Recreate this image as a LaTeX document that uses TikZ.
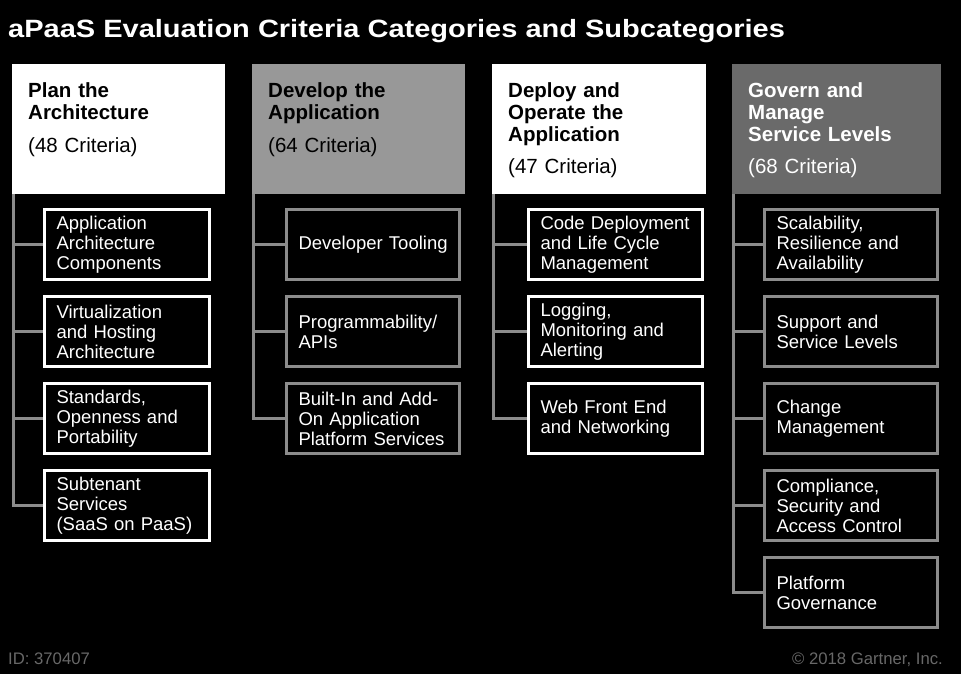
\documentclass[tikz,border=0pt]{standalone}
\usepackage{fontspec}
\setmainfont{Liberation Sans}
\usepackage{tikz}
\usetikzlibrary{positioning}

\definecolor{hdrlight}{HTML}{989898}
\definecolor{hdrdark}{HTML}{6A6A6A}
\definecolor{linegray}{HTML}{8C8C8C}
\definecolor{footgray}{HTML}{686868}

\begin{document}
\begin{tikzpicture}[
  x=1pt, y=-1pt,
  hdr/.style={anchor=north west,inner sep=0pt,minimum height=130pt},
  hdrtext/.style={anchor=north west,inner sep=0pt,align=left,text width=190pt,
    font=\fontsize{20.5}{22}\selectfont\bfseries},
  subbox/.style={anchor=north west,draw,line width=3pt,fill=black,text=white,
    minimum height=70pt,inner xsep=12pt,inner ysep=0pt,align=left,
    font=\fontsize{18.5}{20}\selectfont},
  subW/.style={subbox,draw=white},
  subG/.style={subbox,draw=linegray},
  tree/.style={draw=linegray,line width=3pt},
  foot/.style={inner sep=0pt,text=footgray,font=\fontsize{16.7}{18}\selectfont}
]
  \useasboundingbox (0,0) rectangle (961,674);
  \fill[black] (0,0) rectangle (961,674);

  % title
  \node[anchor=base west,inner sep=0pt,text=white,font=\fontsize{25}{28}\selectfont\bfseries]
    (title) at (8,38) {\scalebox{1.16}[1]{aPaaS Evaluation Criteria Categories and Subcategories}};

  % headers
  \node[hdr,fill=white,minimum width=213pt] (hPlan) at (12,64) {};
  \node[hdr,fill=hdrlight,minimum width=213pt] (hDevelop) at (252,64) {};
  \node[hdr,fill=white,minimum width=214pt] (hDeploy) at (492,64) {};
  \node[hdr,fill=hdrdark,minimum width=209pt] (hGovern) at (732,64) {};

  \node[hdrtext,text=black] (tPlan) at (28,82)
    {Plan the\\Architecture\\[11pt]\mdseries(48 Criteria)};
  \node[hdrtext,text=black] (tDevelop) at (268,82)
    {Develop the\\Application\\[11pt]\mdseries(64 Criteria)};
  \node[hdrtext,text=black] (tDeploy) at (508,82)
    {Deploy and\\Operate the\\Application\\[10pt]\mdseries(47 Criteria)};
  \node[hdrtext,text=white] (tGovern) at (748,82)
    {Govern and\\Manage\\Service Levels\\[10pt]\mdseries(68 Criteria)};

  % plan subcategories
  \node[subW,text width=141pt] (pArch) at (43,208) {Application\\Architecture\\Components};
  \node[subW,text width=141pt] (pVirt) at (43,295) {Virtualization\\and Hosting\\Architecture};
  \node[subW,text width=141pt] (pStd) at (43,382) {Standards,\\Openness and\\Portability};
  \node[subW,text width=141pt] (pSub) at (43,469) {Subtenant\\Services\\(SaaS on PaaS)};

  % develop subcategories
  \node[subG,text width=149pt] (dTool) at (285,208) {\mbox{Developer Tooling}};
  \node[subG,text width=149pt] (dProg) at (285,295) {Programmability/\\APIs};
  \node[subG,text width=149pt] (dBuilt) at (285,382) {Built-In and Add-\\On Application\\Platform Services};

  % deploy subcategories
  \node[subW,text width=150pt] (oCode) at (527,208) {\mbox{Code Deployment}\\and Life Cycle\\Management};
  \node[subW,text width=150pt] (oLog) at (527,295) {Logging,\\Monitoring and\\Alerting};
  \node[subW,text width=150pt] (oWeb) at (527,382) {Web Front End\\and Networking};

  % govern subcategories
  \node[subG,text width=149pt] (gScal) at (763,208) {Scalability,\\Resilience and\\Availability};
  \node[subG,text width=149pt] (gSupp) at (763,295) {Support and\\Service Levels};
  \node[subG,text width=149pt] (gChange) at (763,382) {Change\\Management};
  \node[subG,text width=149pt] (gComp) at (763,469) {Compliance,\\Security and\\Access Control};
  \node[subG,text width=149pt] (gPlat) at (763,556) {Platform\\Governance};

  % tree lines
  \draw[tree] ([xshift=1.5pt]hPlan.south west) |- (pArch.west);
  \draw[tree] ([xshift=1.5pt]hPlan.south west) |- (pVirt.west);
  \draw[tree] ([xshift=1.5pt]hPlan.south west) |- (pStd.west);
  \draw[tree] ([xshift=1.5pt]hPlan.south west) |- (pSub.west);

  \draw[tree] ([xshift=1.5pt]hDevelop.south west) |- (dTool.west);
  \draw[tree] ([xshift=1.5pt]hDevelop.south west) |- (dProg.west);
  \draw[tree] ([xshift=1.5pt]hDevelop.south west) |- (dBuilt.west);

  \draw[tree] ([xshift=1.5pt]hDeploy.south west) |- (oCode.west);
  \draw[tree] ([xshift=1.5pt]hDeploy.south west) |- (oLog.west);
  \draw[tree] ([xshift=1.5pt]hDeploy.south west) |- (oWeb.west);

  \draw[tree] ([xshift=1.5pt]hGovern.south west) |- (gScal.west);
  \draw[tree] ([xshift=1.5pt]hGovern.south west) |- (gSupp.west);
  \draw[tree] ([xshift=1.5pt]hGovern.south west) |- (gChange.west);
  \draw[tree] ([xshift=1.5pt]hGovern.south west) |- (gComp.west);
  \draw[tree] ([xshift=1.5pt]hGovern.south west) |- (gPlat.west);

  % footer
  \node[foot,anchor=base west] (docid) at (8,664) {ID: 370407};
  \node[foot,anchor=base east] (copy) at (943,664) {\textcopyright{} 2018 Gartner, Inc.};
\end{tikzpicture}
\end{document}
